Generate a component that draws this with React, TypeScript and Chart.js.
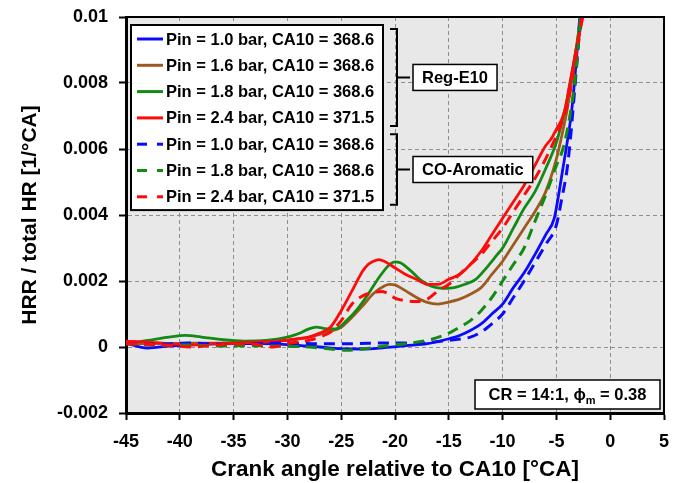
import { useEffect, useRef } from 'react';
import { Chart, registerables } from 'chart.js';

Chart.register(...registerables);

const FONT = '"Liberation Sans", Arial, Helvetica, sans-serif';

// Crank angle relative to CA10 [°CA] and normalized heat release rate [1/°CA]
// Reg-E10, Pin = 1.0 bar
const e10p10Angle = [-45, -43, -41, -38, -35, -32, -29, -27, -25, -23, -21, -19, -17, -15, -14, -13, -12, -11, -10, -9, -8, -7, -6, -5.2, -4.8, -4.4, -4.0, -3.6, -3.3, -3.0, -2.8, -2.6];
const e10p10Hrr = [0.00012, -0.00003, 0.00003, 0.00008, 0.0001, 0.0001, 0.00005, 0.0, -0.00005, -0.00006, -0.00002, 0.00004, 0.0001, 0.00025, 0.00035, 0.0005, 0.0007, 0.001, 0.0013, 0.0018, 0.00225, 0.0028, 0.0034, 0.0039, 0.0046, 0.0054, 0.0062, 0.0071, 0.0081, 0.0093, 0.0101, 0.0108];

// Reg-E10, Pin = 1.6 bar
const e10p16Angle = [-45, -42, -39, -36, -33, -30, -28, -26, -25, -24, -23, -22, -21, -20.5, -20, -19, -18, -17, -16, -15, -14, -13, -12, -11, -10, -9, -8, -7, -6, -5, -4.5, -4, -3.5, -3.0, -2.6];
const e10p16Hrr = [0.0001, 0.0001, 0.00012, 0.00012, 0.00014, 0.0002, 0.0003, 0.00048, 0.0006, 0.0009, 0.00125, 0.00162, 0.00185, 0.0019, 0.00188, 0.0017, 0.0015, 0.00135, 0.0013, 0.00136, 0.00145, 0.0016, 0.0018, 0.0022, 0.0026, 0.0031, 0.0036, 0.0041, 0.0047, 0.0057, 0.0064, 0.0072, 0.0082, 0.0093, 0.0104];

// Reg-E10, Pin = 1.8 bar
const e10p18Angle = [-45, -43, -41, -39.5, -38, -36, -34, -32, -30, -29, -28, -27.3, -26.5, -25.5, -24.5, -23.5, -22.5, -21.5, -20.5, -20, -19.5, -18.5, -17.5, -16.5, -15.5, -14.5, -13.5, -12.5, -11.5, -10.5, -10, -9, -8, -7, -6, -5, -4.5, -4, -3.5, -3.0, -2.6];
const e10p18Hrr = [0.0001, 0.0002, 0.0003, 0.00035, 0.0003, 0.00022, 0.00018, 0.0002, 0.0003, 0.0004, 0.00055, 0.0006, 0.00056, 0.00055, 0.0008, 0.00115, 0.0016, 0.0021, 0.0025, 0.00258, 0.00255, 0.0023, 0.002, 0.00183, 0.00178, 0.0018, 0.0019, 0.00205, 0.0024, 0.0028, 0.003, 0.0036, 0.0042, 0.0047, 0.0054, 0.0062, 0.0068, 0.0075, 0.0084, 0.0094, 0.0104];

// Reg-E10, Pin = 2.4 bar
const e10p24Angle = [-45, -43, -41, -39, -37, -35, -33, -31, -29, -28, -27, -26, -25, -24, -23, -22.5, -22, -21.5, -21, -20, -19, -18, -17, -16, -15, -14, -13, -12, -11, -10, -9, -8, -7, -6, -5.5, -5, -4.5, -4.2, -3.8, -3.4, -3.0, -2.6, -2.3];
const e10p24Hrr = [0.00018, 0.00015, 0.0001, 0.00006, 0.0001, 0.00012, 0.00015, 0.00018, 0.00025, 0.0003, 0.00042, 0.0006, 0.0011, 0.0017, 0.0023, 0.0025, 0.0026, 0.00265, 0.0026, 0.0024, 0.0022, 0.00205, 0.0019, 0.0019, 0.00205, 0.0022, 0.0025, 0.0029, 0.0034, 0.0039, 0.0044, 0.0049, 0.0055, 0.0061, 0.0063, 0.0066, 0.0069, 0.0072, 0.0079, 0.0086, 0.0093, 0.0099, 0.0105];

// CO-Aromatic, Pin = 1.0 bar
const coAp10Angle = [-45, -42, -39, -36, -33, -30, -27, -24, -21, -18, -15, -13, -12, -11, -10, -9, -8, -7, -6, -5, -4.5, -4.0, -3.7, -3.3, -3.0, -2.7];
const coAp10Hrr = [0.0001, 0.00008, 0.00012, 0.00008, 0.0001, 0.00012, 0.0001, 0.0001, 0.00012, 0.00012, 0.0002, 0.0003, 0.00045, 0.0007, 0.001, 0.0015, 0.002, 0.00255, 0.0031, 0.0037, 0.0045, 0.0054, 0.0063, 0.0078, 0.009, 0.0102];

// CO-Aromatic, Pin = 1.8 bar
const coAp18Angle = [-45, -42, -39, -36, -33, -30, -28, -26, -24.5, -23, -21, -19, -17, -15, -14, -13, -12, -11, -10, -9, -8, -7, -6, -5, -4.4, -3.8, -3.3, -3.0, -2.7];
const coAp18Hrr = [0.0001, 0.00005, 0.00006, 0.00003, 0.00004, 0.00002, 0.0, -0.00006, -0.0001, -0.00006, 0.00003, 0.0001, 0.0002, 0.00042, 0.0006, 0.0008, 0.0011, 0.0015, 0.002, 0.0025, 0.003, 0.0038, 0.0046, 0.0055, 0.006, 0.0069, 0.008, 0.009, 0.0102];

// CO-Aromatic, Pin = 2.4 bar
const coAp24Angle = [-45, -43, -41, -39, -37, -35, -33, -31.3, -30, -29, -28, -27, -26, -25, -24, -23, -22, -21.3, -20.5, -20, -19, -18, -17, -16, -15, -14, -13, -12, -11, -10, -9, -8, -7, -6, -5, -4.5, -4, -3.6, -3.2, -2.8, -2.5];
const coAp24Hrr = [0.0001, 0.00008, 0.00005, 0.0, 0.00005, 0.0001, 0.00008, 0.0, 0.0001, 0.00015, 0.0002, 0.0003, 0.00045, 0.0008, 0.0013, 0.00155, 0.00165, 0.00168, 0.0016, 0.00148, 0.0014, 0.00138, 0.00145, 0.0017, 0.0019, 0.0022, 0.0025, 0.0028, 0.0032, 0.0036, 0.0041, 0.0046, 0.0051, 0.0057, 0.0064, 0.0068, 0.0073, 0.008, 0.0088, 0.0096, 0.0103];

const seriesLabels = [
  'Pin = 1.0 bar, CA10 = 368.6',
  'Pin = 1.6 bar, CA10 = 368.6',
  'Pin = 1.8 bar, CA10 = 368.6',
  'Pin = 2.4 bar, CA10 = 371.5',
  'Pin = 1.0 bar, CA10 = 368.6',
  'Pin = 1.8 bar, CA10 = 368.6',
  'Pin = 2.4 bar, CA10 = 371.5',
];
const seriesAngles = [e10p10Angle, e10p16Angle, e10p18Angle, e10p24Angle, coAp10Angle, coAp18Angle, coAp24Angle];
const seriesHrr = [e10p10Hrr, e10p16Hrr, e10p18Hrr, e10p24Hrr, coAp10Hrr, coAp18Hrr, coAp24Hrr];
const seriesColors = ['#0a0aff', '#9e5a1e', '#138a13', '#ff0a0a', '#0a0aff', '#138a13', '#ff0a0a'];
const seriesDashed = [false, false, false, false, true, true, true];

// fuel groups: label and the legend rows they span
const groupLabels = ['Reg-E10', 'CO-Aromatic'];
const groupRows = [[0, 3], [4, 6]];

const angleTicks = [-45, -40, -35, -30, -25, -20, -15, -10, -5, 0, 5];
const hrrTicks = [-0.002, 0, 0.002, 0.004, 0.006, 0.008, 0.01];

const xTitle = 'Crank angle relative to CA10 [°CA]';
const yTitle = 'HRR / total HR [1/°CA]';
const noteMain = 'CR = 14:1, ϕ';
const noteSub = 'm';
const noteTail = ' = 0.38';

const panelPlugin = {
  id: 'panel',
  beforeDraw(chart: any) {
    const { ctx, chartArea: a } = chart;
    ctx.save();
    ctx.fillStyle = '#ffffff';
    ctx.fillRect(0, 0, chart.width, chart.height);
    ctx.fillStyle = '#e8e8e8';
    ctx.fillRect(a.left, a.top, a.right - a.left, a.bottom - a.top);
    ctx.restore();
  },
  afterDraw(chart: any) {
    const { ctx, chartArea: a } = chart;
    ctx.save();

    // top and right edges of the plot frame
    ctx.strokeStyle = '#000';
    ctx.lineWidth = 2;
    ctx.beginPath();
    ctx.moveTo(a.left, a.top);
    ctx.lineTo(a.right, a.top);
    ctx.lineTo(a.right, a.bottom);
    ctx.stroke();

    // legend
    const lx = a.left + 5;
    const ly = a.top + 8;
    const lw = 252;
    const rowH = 26.3;
    const lh = rowH * seriesLabels.length + 1;
    ctx.fillStyle = '#fff';
    ctx.fillRect(lx, ly, lw, lh);
    ctx.lineWidth = 2;
    ctx.strokeStyle = '#000';
    ctx.strokeRect(lx, ly, lw, lh);
    ctx.font = `bold 16.5px ${FONT}`;
    ctx.textBaseline = 'middle';
    ctx.textAlign = 'left';
    const rowY = (i: number) => ly + 14 + i * rowH;
    chart.data.datasets.forEach((ds: any, i: number) => {
      const y = rowY(i);
      ctx.strokeStyle = ds.borderColor;
      ctx.lineWidth = 3;
      ctx.setLineDash(seriesDashed[i] ? [10, 10] : []);
      ctx.beginPath();
      ctx.moveTo(lx + 6, y);
      ctx.lineTo(lx + 32, y);
      ctx.stroke();
      ctx.setLineDash([]);
      ctx.fillStyle = '#000';
      ctx.fillText(ds.label, lx + 35, y + 1);
    });

    // group brackets and their labels
    const bx = lx + lw + 14;
    groupLabels.forEach((g, k) => {
      const [r0, r1] = groupRows[k];
      const y0 = rowY(r0) - 10;
      const y1 = rowY(r1) + 8;
      const ym = (y0 + y1) / 2;
      ctx.strokeStyle = '#000';
      ctx.lineWidth = 2;
      ctx.beginPath();
      ctx.moveTo(bx - 7, y0);
      ctx.lineTo(bx, y0);
      ctx.lineTo(bx, y1);
      ctx.lineTo(bx - 7, y1);
      ctx.moveTo(bx, ym);
      ctx.lineTo(bx + 13, ym);
      ctx.stroke();
      ctx.font = `bold 16.5px ${FONT}`;
      const tw = ctx.measureText(g).width;
      const boxX = bx + 16;
      const boxW = tw + 18;
      const boxH = 26;
      ctx.fillStyle = '#fff';
      ctx.fillRect(boxX, ym - boxH / 2, boxW, boxH);
      ctx.lineWidth = 1.5;
      ctx.strokeRect(boxX, ym - boxH / 2, boxW, boxH);
      ctx.fillStyle = '#000';
      ctx.textAlign = 'left';
      ctx.fillText(g, boxX + 9, ym + 1);
    });

    // operating condition note
    const nW = 185;
    const nH = 29;
    const nx = a.right - 4 - nW;
    const ny = a.bottom - 4 - nH;
    ctx.fillStyle = '#fff';
    ctx.fillRect(nx, ny, nW, nH);
    ctx.strokeStyle = '#000';
    ctx.lineWidth = 1.5;
    ctx.strokeRect(nx, ny, nW, nH);
    const mainFont = `bold 16.5px ${FONT}`;
    const subFont = `bold 11px ${FONT}`;
    ctx.font = mainFont;
    const w1 = ctx.measureText(noteMain).width;
    const w3 = ctx.measureText(noteTail).width;
    ctx.font = subFont;
    const w2 = ctx.measureText(noteSub).width;
    let tx = nx + (nW - (w1 + w2 + w3)) / 2;
    const ty = ny + nH / 2 + 1;
    ctx.fillStyle = '#000';
    ctx.textAlign = 'left';
    ctx.font = mainFont;
    ctx.fillText(noteMain, tx, ty);
    tx += w1;
    ctx.font = subFont;
    ctx.fillText(noteSub, tx, ty + 5);
    tx += w2;
    ctx.font = mainFont;
    ctx.fillText(noteTail, tx, ty);

    ctx.restore();
  },
};

// keep the plot area fixed: no extra room reserved for overhanging end labels
const noEdgePadding = (scale: any) => {
  scale.paddingLeft = 0;
  scale.paddingRight = 0;
  scale.paddingTop = 0;
  scale.paddingBottom = 0;
};

export default function App() {
  const canvasRef = useRef<HTMLCanvasElement | null>(null);

  useEffect(() => {
    const canvas = canvasRef.current;
    if (!canvas) return;
    Chart.defaults.font.family = FONT;
    Chart.defaults.color = '#000';

    const datasets = seriesLabels.map((label, i) => ({
      label,
      data: seriesAngles[i].map((x, j) => ({ x, y: seriesHrr[i][j] })),
      borderColor: seriesColors[i],
      backgroundColor: seriesColors[i],
      borderWidth: seriesDashed[i] ? 3 : 2.8,
      borderDash: seriesDashed[i] ? [11, 7] : [],
      pointRadius: 0,
      fill: false,
      cubicInterpolationMode: 'monotone' as const,
      clip: 0,
      order: -i,
    }));

    const chart = new Chart(canvas, {
      type: 'line',
      data: { datasets },
      plugins: [panelPlugin],
      options: {
        animation: false,
        responsive: false,
        devicePixelRatio: 1,
        layout: { padding: { left: 0, top: 17, right: 9, bottom: 0 } },
        plugins: {
          legend: { display: false },
          tooltip: { enabled: false },
        },
        scales: {
          x: {
            type: 'linear',
            min: -45,
            max: 5,
            afterBuildTicks: (scale: any) => {
              scale.ticks = angleTicks.map((value) => ({ value }));
            },
            afterFit: (scale: any) => {
              scale.height = 70;
              noEdgePadding(scale);
            },
            ticks: {
              font: { size: 18, weight: 'bold' },
              padding: 11,
              maxRotation: 0,
              callback: (v: any) => String(v),
            },
            grid: {
              color: '#8f8f8f',
              lineWidth: 1,
              tickLength: 7,
              tickWidth: 2,
              tickColor: '#000',
            },
            border: { display: true, color: '#000', width: 3, dash: [4, 3] },
            title: {
              display: true,
              text: xTitle,
              font: { size: 22.5, weight: 'bold' },
              padding: { top: 0, bottom: 0 },
            },
          },
          y: {
            type: 'linear',
            min: -0.002,
            max: 0.01,
            afterBuildTicks: (scale: any) => {
              scale.ticks = hrrTicks.map((value) => ({ value }));
            },
            afterFit: (scale: any) => {
              scale.width = 126;
              noEdgePadding(scale);
            },
            ticks: {
              font: { size: 18, weight: 'bold' },
              padding: 11,
              callback: (v: any) => String(Number(Number(v).toFixed(3))),
            },
            grid: {
              color: '#8f8f8f',
              lineWidth: 1,
              tickLength: 7,
              tickWidth: 2,
              tickColor: '#000',
            },
            border: { display: true, color: '#000', width: 3, dash: [4, 3] },
            title: {
              display: true,
              text: yTitle,
              font: { size: 21, weight: 'bold' },
              padding: { top: 18, bottom: 0 },
            },
          },
        },
      },
    } as any);

    return () => chart.destroy();
  }, []);

  return (
    <div style={{ position: 'absolute', left: 0, top: 0, width: 673, height: 483, background: '#fff' }}>
      <canvas ref={canvasRef} width={673} height={483} style={{ display: 'block', width: 673, height: 483 }} />
    </div>
  );
}
